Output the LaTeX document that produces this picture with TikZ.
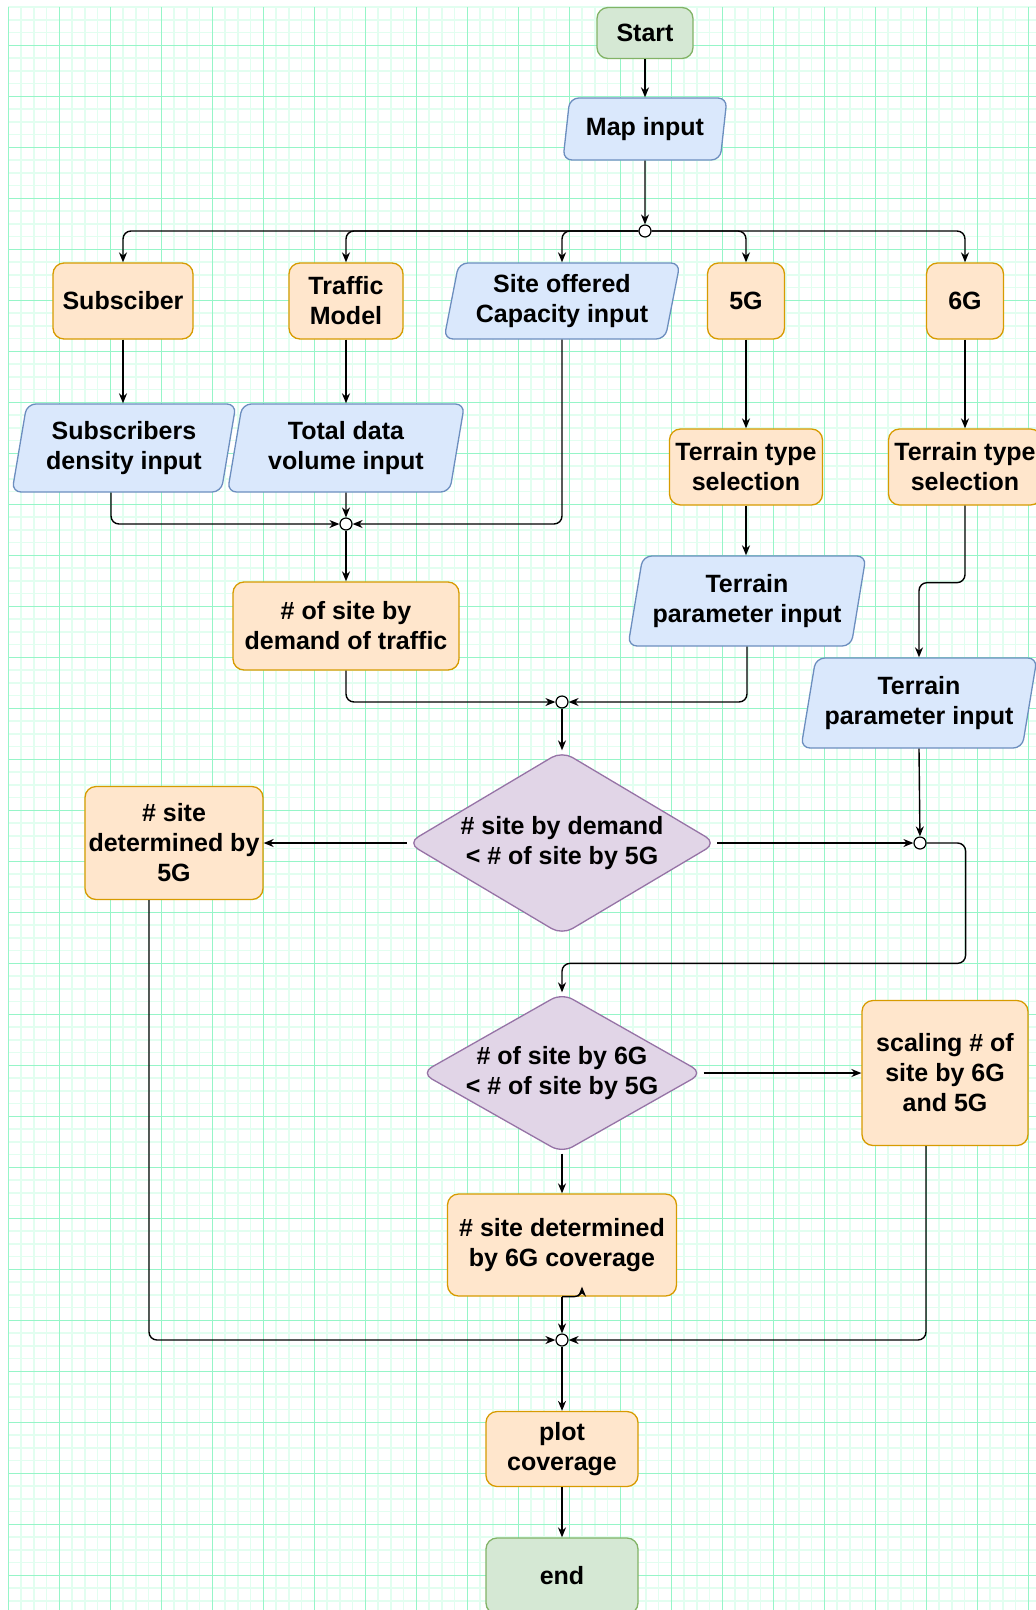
\documentclass[tikz,border=0pt]{standalone}
\usepackage{fontspec}
\setmainfont{Liberation Sans}
\usetikzlibrary{shapes.geometric, arrows.meta}
\definecolor{gridmajor}{RGB}{150,245,200}
\definecolor{gridminor}{RGB}{226,254,240}
\definecolor{procfill}{HTML}{FFE6CC}
\definecolor{procline}{HTML}{D79B00}
\definecolor{iofill}{HTML}{DAE8FC}
\definecolor{ioline}{HTML}{6C8EBF}
\definecolor{termfill}{HTML}{D5E8D4}
\definecolor{termline}{HTML}{82B366}
\definecolor{decfill}{HTML}{E1D5E7}
\definecolor{decline}{HTML}{9673A6}

\begin{document}
\begin{tikzpicture}[x=1pt, y=-1pt, font=\fontsize{25}{30}\selectfont\bfseries]
	\useasboundingbox (0,0) rectangle (1036,1610);
	\fill[white] (0,0) rectangle (1036,1610);
	% background grid
	\begin{scope}[shift={(8.3,7.05)}]
		\draw[gridminor, line width=1.5pt, step=12.75pt] (0,0) grid (1028,1603);
	\end{scope}
	\begin{scope}[shift={(8.3,-5.7)}]
		\draw[gridmajor, line width=1.2pt, step=51pt] (0,12.75) grid (1028,1616);
	\end{scope}

	\tikzstyle{every node}=[align=center, inner sep=1pt]
	\tikzstyle{proc}=[rectangle, rounded corners=11pt, draw=procline, fill=procfill, line width=1.3pt]
	\tikzstyle{term}=[rectangle, rounded corners=11pt, draw=termline, fill=termfill, line width=1.3pt]
	\tikzstyle{io}=[trapezium, trapezium left angle=75, trapezium right angle=105, trapezium stretches body, rounded corners=9pt, draw=ioline, fill=iofill, line width=1.3pt]
	\tikzstyle{dec}=[diamond, inner sep=-6pt, rounded corners=12pt, draw=decline, fill=decfill, line width=1.3pt]
	\tikzstyle{junc}=[circle, draw, fill=white, minimum size=12pt, inner sep=0pt, line width=1.2pt]
	\tikzstyle{flow}=[draw, line width=1.4pt, rounded corners=8pt, -{Stealth[length=10pt, width=8pt]}]

	\node[term, minimum width=96pt, minimum height=51pt] (start) at (645,33) {Start};
	\node[io, minimum width=164pt, minimum height=62pt] (map) at (645,129) {Map input};
	\node[junc] (jmap) at (645,231) {};

	\node[proc, minimum width=140pt, minimum height=76pt] (subs) at (123,301) {Subsciber};
	\node[proc, minimum width=114pt, minimum height=76pt] (traffic) at (346,301) {Traffic\\Model};
	\node[io, minimum width=236pt, minimum height=76pt] (cap) at (562,301) {Site offered\\Capacity input};
	\node[proc, minimum width=77pt, minimum height=76pt] (fiveg) at (746,301) {5G};
	\node[proc, minimum width=77pt, minimum height=76pt] (sixg) at (965,301) {6G};

	\node[io, minimum width=224pt, minimum height=88pt] (dens) at (124,448) {Subscribers\\density input};
	\node[io, minimum width=237pt, minimum height=88pt] (vol) at (346,448) {Total data\\volume input};
	\node[proc, minimum width=153pt, minimum height=76pt] (tts5) at (746,467) {Terrain type\\selection};
	\node[proc, minimum width=153pt, minimum height=76pt] (tts6) at (965,467) {Terrain type\\selection};

	\node[junc] (jdem) at (346,524) {};
	\node[proc, minimum width=226pt, minimum height=88pt] (demand) at (346,626) {\# of site by\\demand of traffic};
	\node[io, minimum width=238pt, minimum height=90pt] (tpi5) at (747,601) {Terrain\\parameter input};
	\node[io, minimum width=236pt, minimum height=90pt] (tpi6) at (919,703) {Terrain\\parameter input};
	\node[junc] (jsite) at (562,702) {};

	\node[dec, aspect=1.68, minimum width=309pt, minimum height=184pt] (dec1) at (562,843) {\# site by demand\\< \# of site by 5G};
	\node[proc, minimum width=178pt, minimum height=113pt] (site5) at (174,843) {\# site\\determined by\\5G};
	\node[junc] (jsix) at (920,843) {};

	\node[dec, aspect=1.76, minimum width=282pt, minimum height=160pt] (dec2) at (562,1073) {\# of site by 6G\\< \# of site by 5G};
	\node[proc, minimum width=166pt, minimum height=145pt] (scale) at (945,1073) {scaling \# of\\site by 6G\\and 5G};
	\node[proc, minimum width=229pt, minimum height=102pt] (site6) at (562,1245) {\# site determined\\by 6G coverage};
	\node[junc] (jend) at (562,1340) {};
	\node[proc, minimum width=152pt, minimum height=75pt] (plot) at (562,1449) {plot\\coverage};
	\node[term, minimum width=152pt, minimum height=76pt] (finish) at (562,1576) {end};

	\draw[flow] (start) -- (map);
	\draw[flow] (map) -- (jmap);
	\draw[flow] (jmap.west) -| (subs.north);
	\draw[flow] (jmap.west) -| (traffic.north);
	\draw[flow] (jmap.west) -| (cap.north -| cap.center);
	\draw[flow] (jmap.east) -| (fiveg.north);
	\draw[flow] (jmap.east) -| (sixg.north);

	\draw[flow] (subs) -- (subs |- dens.north);
	\draw[flow] (traffic) -- (vol);
	\draw[flow] (fiveg) -- (tts5);
	\draw[flow] (sixg) -- (tts6);

	\draw[flow] ([xshift=-13pt]dens.center |- dens.south) |- (jdem);
	\draw[flow] (vol) -- (jdem);
	\draw[flow] (cap.south -| cap.center) |- (jdem);
	\draw[flow] (jdem) -- (demand);
	\draw[flow] (tts5) -- (tpi5.north -| tts5.center);
	\draw[flow] (tts6.south) -- ++(0,77) -| (tpi6.north -| tpi6.center);

	\draw[flow] (demand.south) |- (jsite);
	\draw[flow] (tpi5.south -| tpi5.center) |- (jsite);
	\draw[flow] (jsite) -- (dec1);
	\draw[flow] (dec1.west) -- (site5.east);
	\draw[flow] (dec1.east) -- (jsix);
	\draw[flow] (tpi6.south -| tpi6.center) -- (jsix);
	\draw[flow] (jsix.east) -- ++(39,0) |- ([yshift=29pt]dec2.north) -- (dec2.north);

	\draw[flow] (dec2.east) -- (scale.west);
	\draw[flow] (dec2) -- (site6);
	\draw[flow] (site6) -- (jend);
	\draw[flow] (site6.south) -- ++(20,0) -- ++(0,-10);
	\draw[flow] ([xshift=-25pt]site5.center |- site5.south) |- (jend);
	\draw[flow] ([xshift=-19pt]scale.center |- scale.south) |- (jend);
	\draw[flow] (jend) -- (plot);
	\draw[flow] (plot) -- (finish);
\end{tikzpicture}
\end{document}
